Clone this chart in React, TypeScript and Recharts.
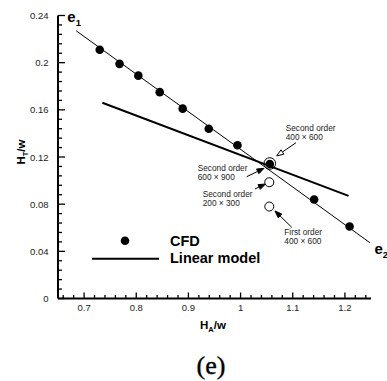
import React from 'react';
import { ComposedChart, Scatter, XAxis, YAxis, ReferenceLine, ReferenceDot } from 'recharts';

// ---- data ----
const cfdX = [0.730, 0.768, 0.804, 0.845, 0.889, 0.939, 0.994, 1.056, 1.141, 1.209];
const cfdY = [0.211, 0.199, 0.189, 0.175, 0.161, 0.144, 0.130, 0.114, 0.084, 0.061];

const fitLineX = [0.685, 1.248];
const fitLineY = [0.227, 0.0473];

const linearModelX = [0.735, 1.207];
const linearModelY = [0.166, 0.087];

const openX = [1.055, 1.055];
const openY = [0.0986, 0.078];

const ringX = [1.056];
const ringY = [0.1145];

const noteLines: [string, string][] = [
  ['Second order', '400 \u00d7 600'],
  ['Second order', '600 \u00d7 900'],
  ['Second order', '200 \u00d7 300'],
  ['First order', '400 \u00d7 600'],
];
const noteX = [1.0865, 0.9178, 0.9274, 1.0838];
const noteY = [0.1423, 0.1084, 0.0858, 0.0539];

const arrowFromX = [1.1062, 1.0117, 1.0276, 1.098];
const arrowFromY = [0.1321, 0.1033, 0.0929, 0.0604];
const arrowToX = [1.0692, 1.0449, 1.0477, 1.066];
const arrowToY = [0.1209, 0.1104, 0.0971, 0.0742];
const arrowOpen = [true, false, false, false];

const endLabels = ['1', '2'];
const endLabelX = [0.6678, 1.2566];
const endLabelY = [0.2345, 0.0377];

const xMajorTicks = [0.7, 0.8, 0.9, 1.0, 1.1, 1.2];
const xTickLabels = ['0.7', '0.8', '0.9', '1', '1.1', '1.2'];
const yMajorTicks = [0, 0.04, 0.08, 0.12, 0.16, 0.2, 0.24];
const yTickLabels = ['0', '0.04', '0.08', '0.12', '0.16', '0.2', '0.24'];

const xAllTicks: number[] = [];
for (let k = 0; k <= 29; k++) xAllTicks.push(Math.round((0.66 + 0.02 * k) * 1000) / 1000);
const yAllTicks: number[] = [];
for (let k = 0; k <= 30; k++) yAllTicks.push(Math.round(0.008 * k * 10000) / 10000);

const cfdData = cfdX.map((x, i) => ({ x, y: cfdY[i] }));
const fitData = fitLineX.map((x, i) => ({ x, y: fitLineY[i] }));
const modelData = linearModelX.map((x, i) => ({ x, y: linearModelY[i] }));
const openData = openX.map((x, i) => ({ x, y: openY[i] }));
const ringData = ringX.map((x, i) => ({ x, y: ringY[i] }));

const FONT = '"Liberation Sans", Arial, Helvetica, sans-serif';

const findIdx = (arr: number[], v: number) => arr.findIndex((t) => Math.abs(t - v) < 1e-6);

function XTick(props: any) {
  const { x, y, payload } = props;
  const i = findIdx(xMajorTicks, payload.value);
  const major = i >= 0;
  return (
    <g>
      <line x1={x} y1={y} x2={x} y2={y - (major ? 6 : 3.5)} stroke="#000" strokeWidth={1.3} />
      {major && (
        <text x={x} y={y + 9} textAnchor="middle" dominantBaseline="central" fontSize={9.5} fill="#222" fontFamily={FONT}>
          {xTickLabels[i]}
        </text>
      )}
    </g>
  );
}

function YTick(props: any) {
  const { x, y, payload } = props;
  const i = findIdx(yMajorTicks, payload.value);
  const major = i >= 0;
  return (
    <g>
      <line x1={x} y1={y} x2={x + (major ? 7 : 4)} y2={y} stroke="#000" strokeWidth={1.3} />
      {major && (
        <text x={x - 9.5} y={y} textAnchor="end" dominantBaseline="central" fontSize={9.5} fill="#222" fontFamily={FONT}>
          {yTickLabels[i]}
        </text>
      )}
    </g>
  );
}

const filledDot = (p: any) => <circle cx={p.cx} cy={p.cy} r={4.3} fill="#000" />;
const openDot = (p: any) => <circle cx={p.cx} cy={p.cy} r={4.5} fill="#fff" stroke="#000" strokeWidth={1} />;
const ringDot = (p: any) => <circle cx={p.cx} cy={p.cy} r={5.8} fill="none" stroke="#000" strokeWidth={1} />;
const noDot = () => <g />;

function makeArrow(open: boolean) {
  return (p: any) => {
    const { x1, y1, x2, y2 } = p;
    const dx = x2 - x1;
    const dy = y2 - y1;
    const len = Math.sqrt(dx * dx + dy * dy) || 1;
    const ux = dx / len;
    const uy = dy / len;
    const hl = 7;
    const hw = 2.6;
    const bx = x2 - ux * hl;
    const by = y2 - uy * hl;
    const pts = `${x2},${y2} ${bx - uy * hw},${by + ux * hw} ${bx + uy * hw},${by - ux * hw}`;
    return (
      <g>
        <line x1={x1} y1={y1} x2={bx} y2={by} stroke="#000" strokeWidth={1} />
        <polygon points={pts} fill={open ? '#fff' : '#000'} stroke="#000" strokeWidth={1} />
      </g>
    );
  };
}

function makeNote(lines: [string, string]) {
  return (p: any) => (
    <text x={p.cx} y={p.cy} fontSize={8.3} fill="#222" fontFamily={FONT}>
      <tspan x={p.cx} dy={0}>{lines[0]}</tspan>
      <tspan x={p.cx} dy={9}>{lines[1]}</tspan>
    </text>
  );
}

function makeEndLabel(sub: string) {
  return (p: any) => (
    <text x={p.cx} y={p.cy} fontSize={15} fontWeight="bold" fill="#000" fontFamily={FONT}>
      e<tspan fontSize={9.5} dy={4}>{sub}</tspan>
    </text>
  );
}

export default function App() {
  return (
    <div style={{ position: 'absolute', left: 0, top: 0, width: 387, height: 381, background: '#fff' }}>
      <ComposedChart width={387} height={381} margin={{ top: 15.5, right: 16, left: 0, bottom: 0 }}>
        <XAxis
          type="number"
          dataKey="x"
          domain={[0.65, 1.25]}
          ticks={xAllTicks}
          interval={0}
          height={82.5}
          tickSize={0}
          tickMargin={0}
          tickLine={false}
          axisLine={{ stroke: '#000', strokeWidth: 2 }}
          tick={<XTick />}
          allowDataOverflow
        />
        <YAxis
          type="number"
          dataKey="y"
          domain={[0, 0.24]}
          ticks={yAllTicks}
          interval={0}
          width={58}
          tickSize={0}
          tickMargin={0}
          tickLine={false}
          axisLine={{ stroke: '#000', strokeWidth: 2 }}
          tick={<YTick />}
          allowDataOverflow
        />
        <Scatter data={fitData} line={{ stroke: '#000', strokeWidth: 1 }} shape={noDot} isAnimationActive={false} />
        <Scatter data={modelData} line={{ stroke: '#000', strokeWidth: 2 }} shape={noDot} isAnimationActive={false} />
        <Scatter data={cfdData} shape={filledDot} isAnimationActive={false} />
        <Scatter data={openData} shape={openDot} isAnimationActive={false} />
        <Scatter data={ringData} shape={ringDot} isAnimationActive={false} />
        {noteLines.map((l, i) => (
          <ReferenceLine
            key={'a' + i}
            segment={[
              { x: arrowFromX[i], y: arrowFromY[i] },
              { x: arrowToX[i], y: arrowToY[i] },
            ]}
            ifOverflow="visible"
            shape={makeArrow(arrowOpen[i])}
          />
        ))}
        {noteLines.map((l, i) => (
          <ReferenceDot key={'n' + i} x={noteX[i]} y={noteY[i]} r={0} ifOverflow="visible" shape={makeNote(l)} />
        ))}
        {endLabels.map((s, i) => (
          <ReferenceDot key={'e' + i} x={endLabelX[i]} y={endLabelY[i]} r={0} ifOverflow="visible" shape={makeEndLabel(s)} />
        ))}
      </ComposedChart>
      <svg width={387} height={381} style={{ position: 'absolute', left: 0, top: 0, pointerEvents: 'none' }}>
        <text x={200} y={328.5} fontSize={11.5} fontWeight="bold" fill="#000" fontFamily={FONT}>
          H<tspan fontSize={7.5} dy={3}>A</tspan>
          <tspan dy={-3}>/w</tspan>
        </text>
        <text
          transform="translate(24.5,152) rotate(-90)"
          x={0}
          y={0}
          textAnchor="middle"
          fontSize={11.5}
          fontWeight="bold"
          fill="#000"
          fontFamily={FONT}
        >
          H<tspan fontSize={7.5} dy={3}>T</tspan>
          <tspan dy={-3}>/w</tspan>
        </text>
        <circle cx={125} cy={240.7} r={4.3} fill="#000" />
        <text x={170} y={245.5} fontSize={14.5} fontWeight="bold" fill="#000" fontFamily={FONT}>CFD</text>
        <line x1={92} y1={258.7} x2={159} y2={258.7} stroke="#000" strokeWidth={2} />
        <text x={170} y={263} fontSize={14.5} fontWeight="bold" fill="#000" fontFamily={FONT}>Linear model</text>
        <text x={211} y={373.5} textAnchor="middle" fontSize={26} fill="#000" stroke="#000" strokeWidth={0.4} fontFamily='"Liberation Serif", "DejaVu Serif", serif'>(e)</text>
      </svg>
    </div>
  );
}
